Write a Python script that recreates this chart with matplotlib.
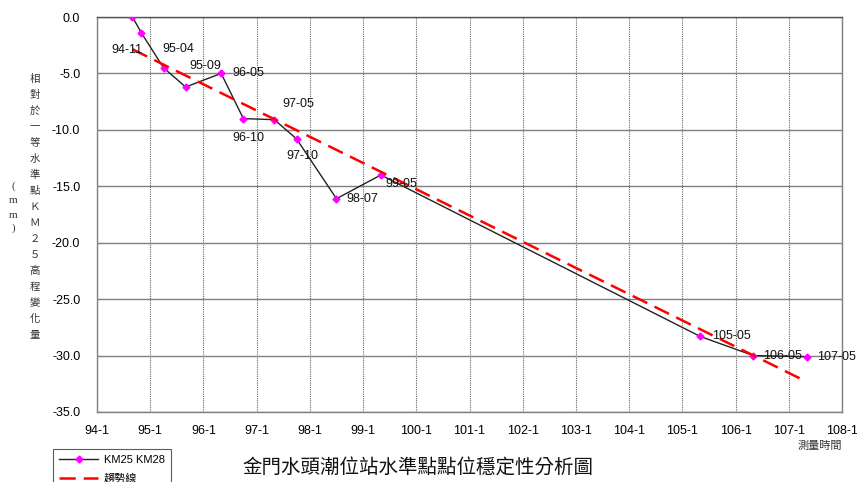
import numpy as np
import matplotlib
matplotlib.use('Agg')
import matplotlib.pyplot as plt
from matplotlib.lines import Line2D

plt.rcParams['font.family'] = ['Liberation Sans', 'Noto Sans CJK TC', 'DejaVu Sans']

# 測量日期 (民國年-月) 與 KM25 相對高程變化量 (mm)
dates = ['94-09', '94-11', '95-04', '95-09', '96-05', '96-10', '97-05',
         '97-10', '98-07', '99-05', '105-05', '106-05', '107-05']
heights = [0.0, -1.4, -4.5, -6.2, -5.0, -9.0, -9.1,
           -10.8, -16.1, -14.0, -28.3, -30.0, -30.1]
show_label = [False] + [True] * 12

year_ticks = list(range(94, 109))
year_tick_labels = [f'{y}-1' for y in year_ticks]
y_ticks = [0.0, -5.0, -10.0, -15.0, -20.0, -25.0, -30.0, -35.0]

# 標籤位移 (像素)
label_offsets = [(0, 0), (-14, -17), (15, 19), (20, 21), (27, 0), (5, -19),
                 (24, 16), (6, -17), (26, 0), (21, -9), (31, 0), (29, 0), (30, 0)]


def to_year(s):
    y, m = s.split('-')
    return int(y) + (int(m) - 1) / 12.0


x = np.array([to_year(d) for d in dates])
y = np.array(heights)

# 線性趨勢線
coef = np.polyfit(x, y, 1)
trend_x = np.array([x.min(), x.max()])
trend_y = np.polyval(coef, trend_x)

fig = plt.figure(figsize=(8.57, 4.82), dpi=100)
ax = fig.add_axes([97 / 857, 1 - 412 / 482, (842 - 97) / 857, (412 - 17) / 482])

ax.plot(x, y, color='#222222', lw=1.0, marker='D', ms=3.5,
        mfc='#FF00FF', mec='#FF00FF', zorder=3)
ax.plot(trend_x, trend_y, color='#FF0000', lw=1.8,
        linestyle=(0, (6.5, 3.2)), zorder=4)

for xi, yi, d, show, off in zip(x, y, dates, show_label, label_offsets):
    if not show:
        continue
    ax.annotate(d, (xi, yi), xytext=off, textcoords='offset pixels',
                ha='center', va='center', fontsize=9, color='#111111', zorder=5)

ax.set_xlim(94, 108)
ax.set_ylim(-35, 0)
ax.set_xticks(year_ticks)
ax.set_xticklabels(year_tick_labels, fontsize=9)
ax.set_yticks(y_ticks)
ax.set_yticklabels([f'{v:.1f}' for v in y_ticks], fontsize=9)

ax.grid(axis='y', color='#808080', lw=1.0, linestyle='-')
ax.grid(axis='x', color='#666666', lw=0.8, linestyle=(0, (1, 1)))
ax.set_axisbelow(True)
for side in ['left', 'bottom', 'right']:
    ax.spines[side].set_color('#808080')
    ax.spines[side].set_linewidth(1.0)
ax.spines['top'].set_color('#555555')
ax.spines['top'].set_linewidth(1.0)
ax.tick_params(axis='x', length=0, pad=9)
ax.tick_params(axis='y', length=3, direction='in', color='#808080', pad=12)

# 縱軸標題 (直書)
ylabel_chars = '相對於一等水準點ＫＭ２５高程變化量'
for i, ch in enumerate(ylabel_chars):
    fig.text(35 / 857, 1 - (79 + i * 16.0) / 482, ch, ha='center', va='center',
             fontsize=7.5, color='#333333', family=['Noto Sans CJK TC', 'DejaVu Sans'])
for ch, py in zip(['(', 'm', 'm', ')'], [186, 200, 215, 228]):
    fig.text(13 / 857, 1 - py / 482, ch, ha='center', va='center',
             fontsize=8, color='#333333', family=['Liberation Serif', 'DejaVu Sans'])

fig.text(842 / 857, 1 - 446 / 482, '測量時間', ha='right', va='center',
         fontsize=8, color='#333333', family=['Noto Sans CJK TC', 'DejaVu Sans'])
fig.text(418 / 857, 1 - 468 / 482, '金門水頭潮位站水準點點位穩定性分析圖',
         ha='center', va='center', fontsize=14, color='#111111',
         family=['Noto Sans CJK TC', 'DejaVu Sans'])

handles = [
    Line2D([], [], color='#222222', lw=1.0, marker='D', ms=3.5,
           mfc='#FF00FF', mec='#FF00FF'),
    Line2D([], [], color='#FF0000', lw=1.8, linestyle=(0, (6.5, 3.2))),
]
leg = fig.legend(handles, ['KM25 KM28', '趨勢線'], loc='upper left',
                 bbox_to_anchor=(53 / 857, 1 - 449 / 482), bbox_transform=fig.transFigure,
                 borderaxespad=0, fontsize=8, frameon=True, fancybox=False,
                 edgecolor='#333333', handlelength=3.5, handletextpad=0.5,
                 labelspacing=0.75, borderpad=0.55, numpoints=1)
leg.get_frame().set_linewidth(0.8)

fig.savefig('out.png', dpi=100)
